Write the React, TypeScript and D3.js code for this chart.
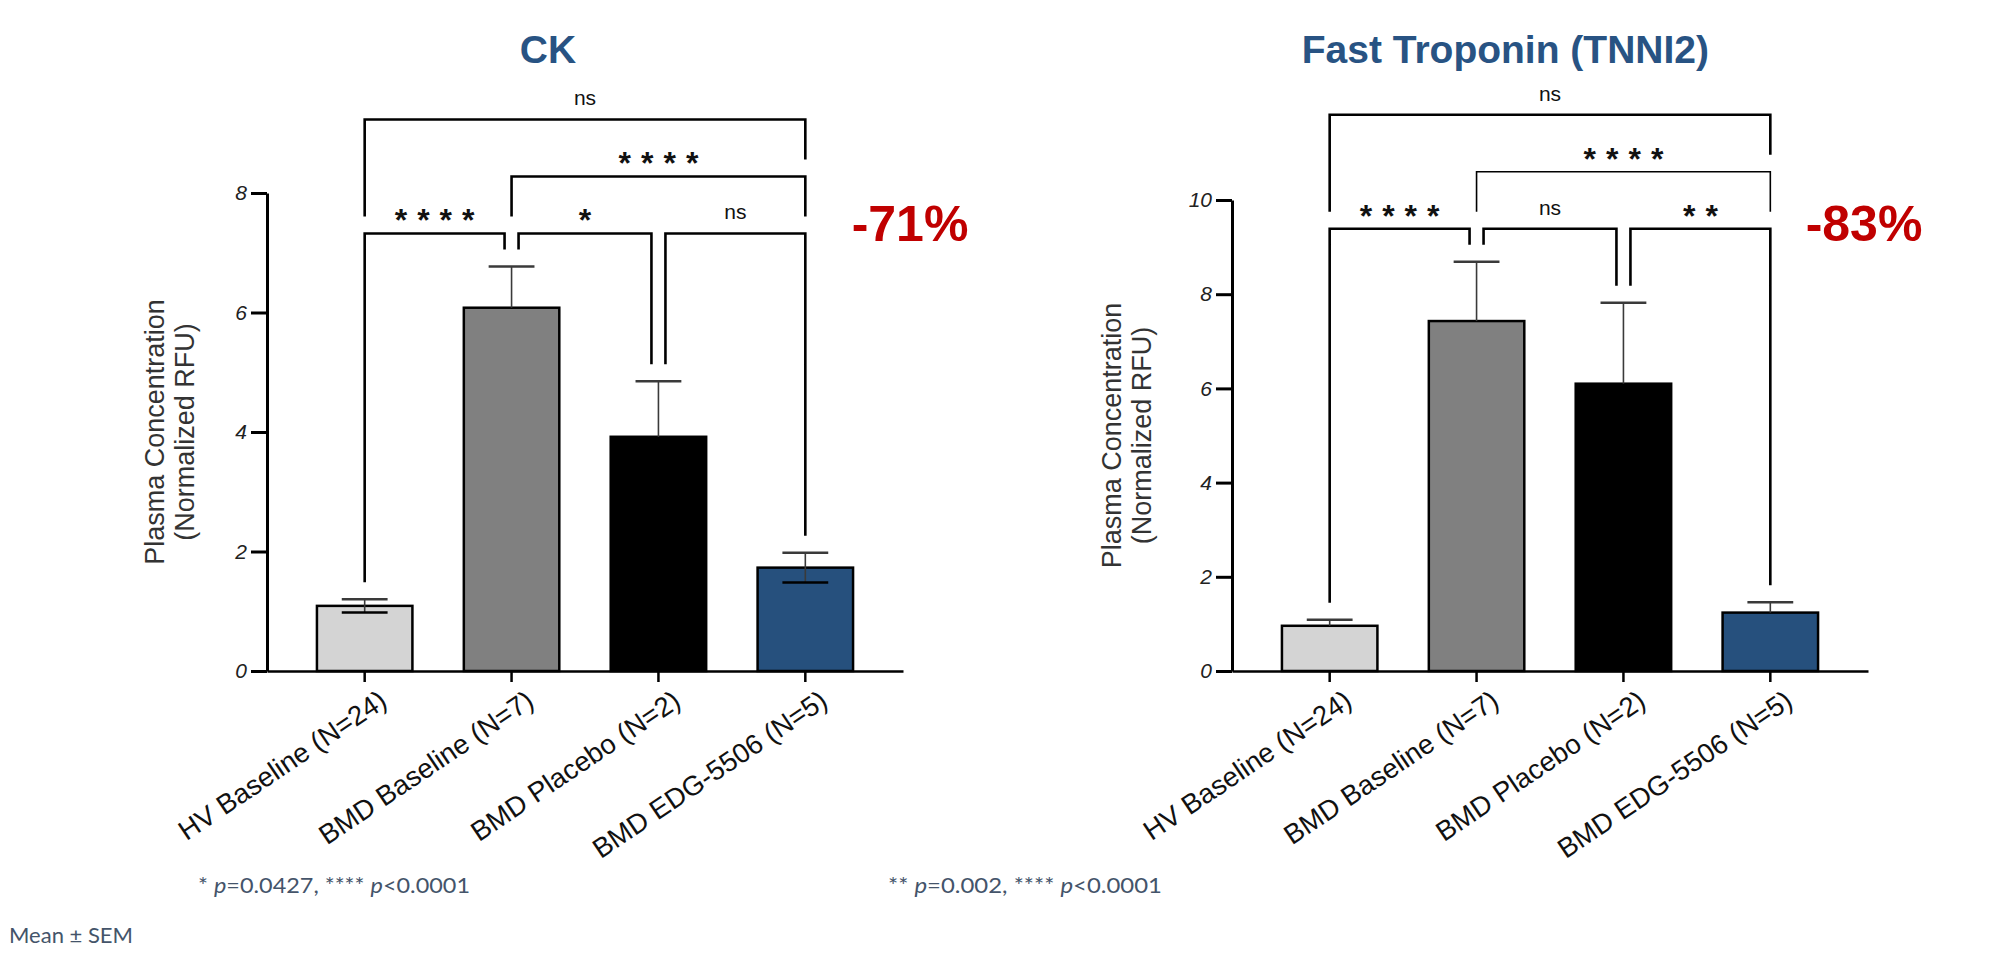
import React, { useEffect, useRef } from 'react';
import * as d3 from 'd3';

const groups = ['HV Baseline (N=24)', 'BMD Baseline (N=7)', 'BMD Placebo (N=2)', 'BMD EDG-5506 (N=5)'];
const barColors = ['#d4d4d4', '#808080', '#000000', '#26507d'];

// CK panel
const ckMean = [1.09, 6.08, 3.92, 1.73];
const ckSem = [0.11, 0.69, 0.93, 0.25];
const ckLowerBar = [true, false, false, true];
const ckTicks = [0, 2, 4, 6, 8];
const ckPairs = [[0, 1], [1, 2], [2, 3], [1, 3], [0, 3]];
const ckLevels = [0, 0, 0, 1, 2];
const ckStars = ['****', '*', 'ns', '****', 'ns'];

// Fast troponin panel
const tnMean = [0.96, 7.43, 6.1, 1.24];
const tnSem = [0.13, 1.26, 1.72, 0.22];
const tnLowerBar = [false, false, false, false];
const tnTicks = [0, 2, 4, 6, 8, 10];
const tnPairs = [[0, 1], [1, 2], [2, 3], [1, 3], [0, 3]];
const tnLevels = [0, 0, 0, 1, 2];
const tnStars = ['****', 'ns', '**', '****', 'ns'];

const font = 'Liberation Sans, Arial, sans-serif';
const noteFont = 'Lato, Open Sans, sans-serif';
const noteColor = '#44546a';

const panels = [
  {
    title: 'CK', titleX: 548, titleAnchor: 'middle', x0: 267, yTop: 193, yMax: 8,
    mean: ckMean, sem: ckSem, lower: ckLowerBar, ticks: ckTicks,
    pairs: ckPairs, levels: ckLevels, stars: ckStars,
    pct: '-71%', pctX: 910, labelX: [155, 185],
    note: ['* ', 'p', '=0.0427,  **** ', 'p', '<0.0001'], noteX: 198, noteW: 272,
  },
  {
    title: 'Fast Troponin (TNNI2)', titleX: 1709, titleAnchor: 'end', x0: 1232, yTop: 200, yMax: 10,
    mean: tnMean, sem: tnSem, lower: tnLowerBar, ticks: tnTicks,
    pairs: tnPairs, levels: tnLevels, stars: tnStars,
    pct: '-83%', pctX: 1864, labelX: [1112, 1142],
    note: ['** ', 'p', '=0.002,  **** ', 'p', '<0.0001'], noteX: 888, noteW: 274,
  },
];

type Panel = typeof panels[number];

const drawPanel = (svg: any, p: Panel) => {
  const baseY = 671;
  const g = svg.append('g').attr('font-family', font);
  const x = d3.scaleBand().domain(groups).range([p.x0, p.x0 + 636]).paddingInner(0.35).paddingOuter(0.34);
  const y = d3.scaleLinear().domain([0, p.yMax]).range([baseY, p.yTop]);
  const bw = x.bandwidth();
  const cx = (i: number) => (x(groups[i]) as number) + bw / 2;

  // title
  g.append('text')
    .attr('x', p.titleX).attr('y', 63)
    .attr('text-anchor', p.titleAnchor)
    .attr('font-size', 39).attr('font-weight', 'bold')
    .attr('fill', '#285383')
    .text(p.title);

  // bars
  g.append('g').selectAll('rect').data(groups).join('rect')
    .attr('x', (d: string) => x(d))
    .attr('y', (_: string, i: number) => y(p.mean[i]))
    .attr('width', bw)
    .attr('height', (_: string, i: number) => baseY - y(p.mean[i]))
    .attr('fill', (_: string, i: number) => barColors[i])
    .attr('stroke', '#000').attr('stroke-width', 2.5);

  // error bars
  const err = g.append('g').attr('stroke', '#3a3a3a');
  groups.forEach((_, i) => {
    const top = y(p.mean[i] + p.sem[i]);
    const bot = p.lower[i] ? y(p.mean[i] - p.sem[i]) : y(p.mean[i]);
    const cw = bw * 0.24;
    err.append('line').attr('x1', cx(i)).attr('x2', cx(i)).attr('y1', top).attr('y2', bot).attr('stroke-width', 1.6);
    err.append('line').attr('x1', cx(i) - cw).attr('x2', cx(i) + cw).attr('y1', top).attr('y2', top).attr('stroke-width', 2.5);
    if (p.lower[i]) {
      err.append('line').attr('x1', cx(i) - cw).attr('x2', cx(i) + cw).attr('y1', bot).attr('y2', bot)
        .attr('stroke', '#000').attr('stroke-width', 2.5);
    }
  });

  // y axis
  const yAxis = g.append('g')
    .attr('transform', `translate(${p.x0},0)`)
    .call(d3.axisLeft(y).tickValues(p.ticks).tickSize(16).tickSizeOuter(0).tickFormat(d3.format('d')));
  yAxis.attr('font-family', font);
  yAxis.select('.domain').attr('stroke-width', 3);
  yAxis.selectAll('.tick line').attr('stroke-width', 3);
  yAxis.selectAll('.tick text')
    .attr('x', -20).attr('font-size', 21).attr('font-style', 'italic').attr('fill', '#222');

  // x axis, labels slanted
  const xAxis = g.append('g')
    .attr('transform', `translate(0,${baseY})`)
    .call(d3.axisBottom(x).tickSize(11).tickSizeOuter(0));
  xAxis.attr('font-family', font);
  xAxis.select('.domain').attr('stroke-width', 2.5);
  xAxis.selectAll('.tick line').attr('stroke-width', 2.5);
  xAxis.selectAll('.tick text')
    .attr('x', 24).attr('y', 34).attr('dy', 0)
    .attr('text-anchor', 'end')
    .attr('font-size', 27.5).attr('fill', '#111')
    .attr('transform', 'rotate(-34, 24, 34)');

  // y label
  const midY = (baseY + p.yTop) / 2;
  ['Plasma Concentration', '(Normalized RFU)'].forEach((t, k) => {
    g.append('text')
      .attr('transform', `translate(${p.labelX[k] + 9},${midY}) rotate(-90)`)
      .attr('text-anchor', 'middle')
      .attr('font-size', 27).attr('fill', '#333')
      .text(t);
  });

  // significance brackets
  const maxTop = d3.max(p.mean.map((m, i) => m + p.sem[i])) as number;
  const lineY = (lvl: number) => y(maxTop) - 33 - lvl * 57;
  const brs = p.pairs.map(([a, b], k) => ({ a, b, lvl: p.levels[k], label: p.stars[k], x1: 0, x2: 0, y: 0 }));
  brs.forEach((br) => {
    const same = brs.filter((o) => o !== br && o.lvl === br.lvl);
    br.x1 = cx(br.a) + (same.some((o) => o.b === br.a) ? 7 : 0);
    br.x2 = cx(br.b) - (same.some((o) => o.a === br.b) ? 7 : 0);
    br.y = lineY(br.lvl);
  });
  const legEnd = (xv: number, grp: number, lvl: number) => {
    const ys = [y(p.mean[grp] + p.sem[grp])];
    brs.forEach((o) => {
      if (o.lvl < lvl && xv >= o.x1 - 10 && xv <= o.x2 + 10) ys.push(o.y);
    });
    return (d3.min(ys) as number) - 17;
  };
  const bg = g.append('g');
  brs.forEach((br) => {
    const thin = p.title !== 'CK' && br.lvl === 1;
    bg.append('path')
      .attr('d', `M${br.x1},${legEnd(br.x1, br.a, br.lvl)}V${br.y}H${br.x2}V${legEnd(br.x2, br.b, br.lvl)}`)
      .attr('fill', 'none').attr('stroke', '#000')
      .attr('stroke-width', thin ? 1.6 : 2.6);
    const mid = (br.x1 + br.x2) / 2;
    if (br.label === 'ns') {
      bg.append('text').attr('x', mid).attr('y', br.y - 14)
        .attr('text-anchor', 'middle').attr('font-size', 21).attr('fill', '#111')
        .text(br.label);
    } else {
      bg.append('text').attr('x', mid + 5).attr('y', br.y - 2)
        .attr('text-anchor', 'middle').attr('font-size', 32).attr('font-weight', 'bold')
        .attr('letter-spacing', 10)
        .attr('fill', '#111')
        .text(br.label);
    }
  });

  // percent change
  g.append('text')
    .attr('x', p.pctX).attr('y', 241)
    .attr('text-anchor', 'middle')
    .attr('font-size', 50).attr('font-weight', 'bold')
    .attr('fill', '#c00000')
    .text(p.pct);

  // p-value note
  const note = g.append('text')
    .attr('x', p.noteX).attr('y', 893)
    .attr('font-family', noteFont)
    .attr('font-size', 21).attr('fill', noteColor)
    .attr('textLength', p.noteW).attr('lengthAdjust', 'spacingAndGlyphs');
  p.note.forEach((s) => {
    note.append('tspan').attr('font-style', s === 'p' ? 'italic' : 'normal').text(s);
  });
};

const App = () => {
  const ref = useRef<SVGSVGElement>(null);

  useEffect(() => {
    const svg = d3.select(ref.current);
    svg.selectAll('*').remove();
    svg.append('rect').attr('width', 1998).attr('height', 966).attr('fill', '#fff');
    panels.forEach((p) => drawPanel(svg, p));
    svg.append('text')
      .attr('x', 9).attr('y', 943)
      .attr('font-family', noteFont)
      .attr('font-size', 21).attr('fill', noteColor)
      .attr('textLength', 124).attr('lengthAdjust', 'spacingAndGlyphs')
      .text('Mean ± SEM');
  }, []);

  return (
    <svg
      ref={ref}
      width={1998}
      height={966}
      style={{ position: 'absolute', left: 0, top: 0, display: 'block' }}
    />
  );
};

export default App;
